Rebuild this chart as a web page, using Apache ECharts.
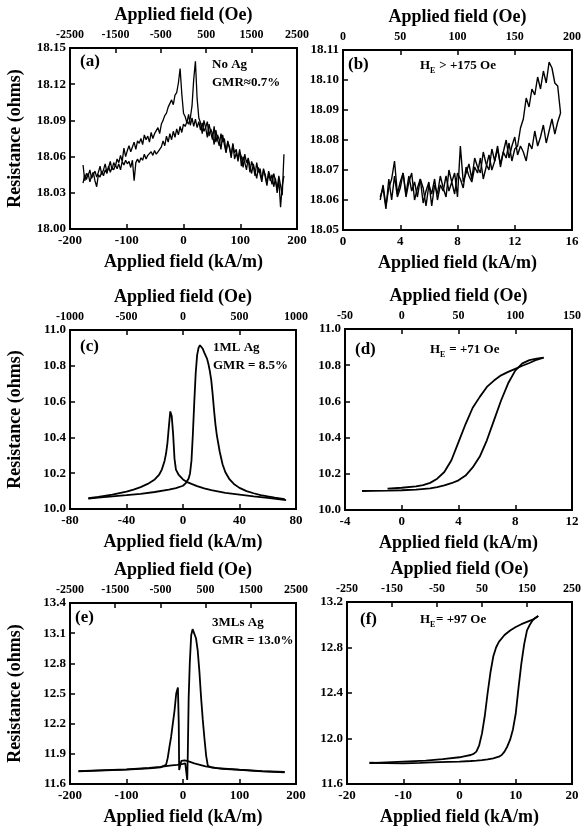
<!DOCTYPE html>
<html>
<head>
<meta charset="utf-8">
<script src="https://cdn.jsdelivr.net/npm/echarts@6/dist/echarts.min.js"></script>
<style>
html, body { margin: 0; padding: 0; background: #fff; }
#main { width: 584px; height: 829px; }
</style>
</head>
<body>
<div id="main"></div>
<script>
// (a) No Ag: two noisy sweeps, field from -177 kA/m in steps of 3
var aStart = -177, aStep = 3;
var aSweep1 = [
	18.053, 18.040, 18.046, 18.044, 18.049, 18.042, 18.045, 18.048, 18.043, 18.047,
	18.052, 18.045, 18.049, 18.054, 18.047, 18.051, 18.056, 18.049, 18.055, 18.052,
	18.058, 18.055, 18.061, 18.056, 18.067, 18.060, 18.065, 18.069, 18.064, 18.068,
	18.072, 18.066, 18.073, 18.071, 18.075, 18.070, 18.078, 18.074, 18.077, 18.072,
	18.080, 18.075, 18.079, 18.078, 18.084, 18.079, 18.087, 18.090, 18.094, 18.096,
	18.101, 18.102, 18.107, 18.103, 18.111, 18.113, 18.121, 18.133, 18.112, 18.096,
	18.093, 18.088, 18.095, 18.086, 18.092, 18.085, 18.091, 18.084, 18.089, 18.082,
	18.088, 18.081, 18.084, 18.089, 18.077, 18.083, 18.079, 18.070, 18.082, 18.074,
	18.069, 18.079, 18.072, 18.075, 18.064, 18.072, 18.068, 18.059, 18.070, 18.063,
	18.066, 18.056, 18.064, 18.060, 18.051, 18.062, 18.055, 18.058, 18.047, 18.056,
	18.052, 18.044, 18.055, 18.047, 18.050, 18.041, 18.049, 18.045, 18.038, 18.048,
	18.043, 18.037, 18.046, 18.040, 18.033, 18.044, 18.045, 18.028, 18.062
];
var aSweep2 = [
	18.038, 18.045, 18.041, 18.046, 18.039, 18.044, 18.047, 18.040, 18.035, 18.045,
	18.043, 18.048, 18.044, 18.049, 18.046, 18.052, 18.047, 18.051, 18.049, 18.053,
	18.050, 18.054, 18.049, 18.056, 18.053, 18.057, 18.054, 18.056, 18.051, 18.057,
	18.040, 18.055, 18.058, 18.055, 18.059, 18.057, 18.062, 18.058, 18.061, 18.062,
	18.064, 18.061, 18.065, 18.062, 18.064, 18.063, 18.068, 18.073, 18.069, 18.077,
	18.072, 18.079, 18.074, 18.081, 18.076, 18.083, 18.078, 18.085, 18.080, 18.087,
	18.085, 18.089, 18.087, 18.092, 18.102, 18.124, 18.139, 18.108, 18.092, 18.088,
	18.079, 18.090, 18.084, 18.076, 18.087, 18.080, 18.074, 18.085, 18.072, 18.078,
	18.074, 18.066, 18.078, 18.070, 18.063, 18.073, 18.067, 18.061, 18.071, 18.058,
	18.063, 18.058, 18.066, 18.052, 18.060, 18.055, 18.049, 18.059, 18.052, 18.046,
	18.054, 18.048, 18.042, 18.051, 18.045, 18.039, 18.050, 18.043, 18.036, 18.046,
	18.040, 18.045, 18.035, 18.042, 18.030, 18.041, 18.018, 18.036, 18.044
];

// (b) He > +175 Oe: up sweep from 2.6 kA/m, return sweep from 15.2 kA/m, step 0.2
var bUpStart = 2.6, bDownStart = 15.2, bStep = 0.2;
var bSweepUp = [
	18.060, 18.065, 18.058, 18.064, 18.067, 18.073, 18.062, 18.066, 18.069, 18.061,
	18.066, 18.069, 18.060, 18.064, 18.067, 18.059, 18.063, 18.066, 18.058, 18.065,
	18.062, 18.068, 18.064, 18.061, 18.070, 18.066, 18.069, 18.061, 18.078, 18.066,
	18.069, 18.072, 18.067, 18.074, 18.071, 18.069, 18.076, 18.072, 18.070, 18.077,
	18.073, 18.078, 18.071, 18.076, 18.080, 18.074, 18.078, 18.081, 18.075, 18.078,
	18.076, 18.073, 18.079, 18.077, 18.083, 18.078, 18.081, 18.085, 18.079, 18.083,
	18.087, 18.082, 18.086, 18.089
];
var bSweepDown = [
	18.089, 18.098, 18.099, 18.104, 18.106, 18.099, 18.103, 18.097, 18.101, 18.095,
	18.097, 18.091, 18.094, 18.087, 18.084, 18.078, 18.077, 18.073, 18.079, 18.074,
	18.076, 18.072, 18.077, 18.073, 18.070, 18.075, 18.071, 18.067, 18.074, 18.069,
	18.071, 18.066, 18.068, 18.071, 18.064, 18.067, 18.069, 18.062, 18.066, 18.063,
	18.068, 18.063, 18.065, 18.060, 18.067, 18.062, 18.065, 18.058, 18.064, 18.067,
	18.061, 18.066, 18.063, 18.068, 18.062, 18.069, 18.064, 18.061, 18.068, 18.060,
	18.067, 18.057, 18.064, 18.061
];

// (c) 1ML Ag: [field kA/m, resistance]
var cSweep1 = [[-67,10.058],[-60,10.063],[-50,10.07],[-40,10.077],[-30,10.085],[-20,10.095],[-10,10.108],[-5,10.117],[0,10.13],[2,10.145],[4,10.17],[5,10.2],[6,10.27],[7,10.42],[8,10.6],[9,10.76],[10,10.86],[11,10.9],[12,10.915],[13,10.91],[14,10.895],[15,10.875],[17,10.84],[18,10.81],[19,10.77],[20,10.72],[21,10.64],[22,10.55],[23,10.47],[24,10.41],[26,10.32],[28,10.25],[30,10.205],[33,10.165],[36,10.14],[40,10.118],[45,10.1],[50,10.088],[55,10.078],[60,10.07],[65,10.063],[72,10.055]];
var cSweep2 = [[-67,10.06],[-60,10.068],[-50,10.08],[-40,10.097],[-35,10.108],[-30,10.122],[-25,10.14],[-20,10.165],[-17,10.19],[-15,10.22],[-13,10.27],[-12,10.31],[-11,10.37],[-10,10.46],[-9,10.545],[-8.5,10.55],[-8,10.52],[-7,10.42],[-6,10.28],[-5,10.22],[-3,10.19],[0,10.165],[3,10.15],[6,10.14],[10,10.128],[15,10.115],[20,10.105],[30,10.09],[40,10.08],[50,10.07],[60,10.062],[73,10.05]];

// (d) He = +71 Oe
var dSweepUp = [[-2.8,10.105],[-2,10.106],[-1,10.107],[0,10.109],[1,10.113],[2,10.12],[2.5,10.127],[3,10.136],[3.5,10.148],[4,10.164],[4.5,10.19],[5,10.235],[5.5,10.295],[6,10.385],[6.5,10.495],[7,10.605],[7.5,10.7],[8,10.77],[8.5,10.81],[9,10.828],[9.5,10.836],[10,10.842]];
var dSweepDown = [[10,10.842],[9.5,10.83],[9,10.812],[8.5,10.797],[8,10.78],[7.5,10.763],[7,10.744],[6.5,10.715],[6,10.68],[5.5,10.625],[5,10.565],[4.5,10.475],[4,10.375],[3.5,10.275],[3,10.21],[2.5,10.173],[2,10.15],[1.5,10.138],[1,10.13],[0,10.123],[-1,10.118]];

// (e) 3MLs Ag
var eSweep1 = [[-185,11.728],[-150,11.735],[-100,11.745],[-60,11.76],[-40,11.77],[-20,11.785],[-10,11.79],[0,11.8],[4,11.805],[6,11.79],[7.5,11.64],[8.5,11.9],[10,12.45],[12,12.8],[14.5,13.08],[17,13.14],[18.5,13.155],[20,13.14],[23,13.05],[26,12.93],[29,12.72],[32,12.46],[35,12.24],[38,12.05],[41,11.88],[44,11.78],[50,11.765],[70,11.75],[100,11.74],[140,11.725],[180,11.715]];
var eSweep2 = [[180,11.72],[140,11.728],[100,11.742],[60,11.758],[40,11.775],[20,11.805],[10,11.825],[3,11.835],[0,11.83],[-3,11.83],[-6,11.83],[-6.8,11.74],[-7.5,12.2],[-9,12.56],[-10,12.57],[-12,12.5],[-15,12.33],[-18,12.2],[-21,12.07],[-24,11.97],[-27,11.86],[-30,11.79],[-40,11.765],[-60,11.755],[-100,11.743],[-150,11.733],[-185,11.725]];

// (f) He = +97 Oe
var fSweepUp = [[-16,11.787],[-13,11.784],[-10,11.782],[-7,11.786],[-5,11.79],[-2,11.794],[0,11.797],[2,11.802],[3,11.805],[4,11.81],[5,11.817],[6,11.826],[7,11.84],[7.5,11.855],[8,11.885],[8.5,11.93],[9,11.99],[9.5,12.08],[10,12.22],[10.5,12.45],[11,12.66],[11.5,12.83],[12,12.95],[12.5,13.0],[13,13.04],[13.5,13.06],[14,13.077]];
var fSweepDown = [[14,13.077],[13,13.045],[12,13.025],[11,13.005],[10,12.98],[9,12.95],[8,12.91],[7,12.85],[6.5,12.8],[6,12.72],[5.5,12.58],[5,12.4],[4.5,12.2],[4,12.045],[3.5,11.94],[3,11.885],[2.5,11.865],[2,11.855],[1,11.845],[0,11.835],[-3,11.818],[-6,11.806],[-10,11.797],[-13,11.79],[-16,11.783]];

function pairs(start, step, ys) {
	return ys.map(function (y, i) { return [+(start + i * step).toFixed(2), y]; });
}

var FONT = '"Liberation Serif", "Times New Roman", serif';

// grid box, kA/m axis, Oe axis, resistance axis, decimals
var panels = [
	{ box: [70, 48, 227, 181], ka: [-200, 200, 100], oe: [-2500, 2500, 1000], r: [18.00, 18.15, 0.03], d: 2, yName: true },
	{ box: [343, 50, 234, 180], ka: [0, 16, 4], oe: [0, 200, 50], r: [18.05, 18.11, 0.01], d: 2 },
	{ box: [70, 330, 226, 179], ka: [-80, 80, 40], oe: [-1000, 1000, 500], r: [10.0, 11.0, 0.2], d: 1, yName: true },
	{ box: [345, 329, 231, 181], ka: [-4, 12, 4], oe: [-50, 150, 50], r: [10.0, 11.0, 0.2], d: 1 },
	{ box: [70, 603, 226, 181], ka: [-200, 200, 100], oe: [-2500, 2500, 1000], r: [11.6, 13.4, 0.3], d: 1, yName: true },
	{ box: [347, 602, 228, 182], ka: [-20, 20, 10], oe: [-250, 250, 100], r: [11.6, 13.2, 0.4], d: 1 }
];

var plain = function (v) { return String(v); };

var grids = [], xAxes = [], yAxes = [];
panels.forEach(function (p, i) {
	grids.push({
		left: p.box[0], top: p.box[1], width: p.box[2], height: p.box[3],
		show: true, borderColor: '#000', borderWidth: 2, backgroundColor: 'transparent'
	});
	xAxes.push({
		gridIndex: i, type: 'value', position: 'bottom',
		min: p.ka[0], max: p.ka[1], interval: p.ka[2],
		name: 'Applied field (kA/m)', nameLocation: 'middle', nameGap: 24,
		nameTextStyle: { color: '#000', fontFamily: FONT, fontWeight: 'bold', fontSize: 18 },
		axisLine: { onZero: false, lineStyle: { color: '#000', width: 2 } },
		axisTick: { inside: true, length: 5, lineStyle: { color: '#000', width: 1.5 } },
		axisLabel: { color: '#000', fontFamily: FONT, fontWeight: 'bold', fontSize: 13, margin: 5, formatter: plain },
		splitLine: { show: false }
	});
	xAxes.push({
		gridIndex: i, type: 'value', position: 'top',
		min: p.oe[0], max: p.oe[1], interval: p.oe[2],
		name: 'Applied field (Oe)', nameLocation: 'middle', nameGap: 24,
		nameTextStyle: { color: '#000', fontFamily: FONT, fontWeight: 'bold', fontSize: 18 },
		axisLine: { onZero: false, lineStyle: { color: '#000', width: 2 } },
		axisTick: { inside: true, length: 5, lineStyle: { color: '#000', width: 1.5 } },
		axisLabel: { color: '#000', fontFamily: FONT, fontWeight: 'bold', fontSize: 12, margin: 7, formatter: plain },
		splitLine: { show: false }
	});
	yAxes.push({
		gridIndex: i, type: 'value', position: 'left',
		min: p.r[0], max: p.r[1], interval: p.r[2],
		name: p.yName ? 'Resistance (ohms)' : '', nameLocation: 'middle', nameGap: 46,
		nameTextStyle: { color: '#000', fontFamily: FONT, fontWeight: 'bold', fontSize: 18 },
		axisLine: { show: true, onZero: false, lineStyle: { color: '#000', width: 2 } },
		axisTick: { inside: true, length: 5, lineStyle: { color: '#000', width: 1.5 } },
		axisLabel: {
			color: '#000', fontFamily: FONT, fontWeight: 'bold', fontSize: 13, margin: 4,
			formatter: (function (d) { return function (v) { return v.toFixed(d); }; })(p.d)
		},
		splitLine: { show: false }
	});
});

function curve(panel, data, width) {
	return {
		type: 'line', xAxisIndex: panel * 2, yAxisIndex: panel,
		data: data, showSymbol: false, symbol: 'none', animation: false,
		lineStyle: { color: '#000', width: width }
	};
}

var series = [
	curve(0, pairs(aStart, aStep, aSweep1), 1.3),
	curve(0, pairs(aStart, aStep, aSweep2), 1.3),
	curve(1, pairs(bUpStart, bStep, bSweepUp), 1.4),
	curve(1, pairs(bDownStart, -bStep, bSweepDown), 1.4),
	curve(2, cSweep1, 1.8),
	curve(2, cSweep2, 1.8),
	curve(3, dSweepUp, 1.8),
	curve(3, dSweepDown, 1.8),
	curve(4, eSweep1, 1.8),
	curve(4, eSweep2, 1.8),
	curve(5, fSweepUp, 1.8),
	curve(5, fSweepDown, 1.8)
];

function label(text, x, y, size) {
	return {
		type: 'text', x: x, y: y, silent: true,
		style: { text: text, fill: '#000', font: 'bold ' + size + 'px ' + FONT, verticalAlign: 'middle' }
	};
}

function hLabel(x, y, rest) {
	return [
		label('H', x, y, 13),
		label('E', x + 10, y + 5, 8),
		label(rest, x + 16, y, 13)
	];
}

var graphics = [
	label('(a)', 80, 62, 17), label('No Ag', 212, 65, 13), label('GMR\u22480.7%', 212, 83, 13),
	label('(b)', 348, 65, 17),
	label('(c)', 80, 347, 17), label('1ML Ag', 213, 348, 13), label('GMR = 8.5%', 213, 366, 13),
	label('(d)', 355, 350, 17),
	label('(e)', 75, 618, 17), label('3MLs Ag', 212, 623, 13), label('GMR = 13.0%', 212, 641, 13),
	label('(f)', 360, 620, 17)
].concat(hLabel(420, 66, ' > +175 Oe'), hLabel(430, 350, ' = +71 Oe'), hLabel(420, 620, '= +97 Oe'));

var myChart = echarts.init(document.getElementById('main'));

myChart.setOption({
	backgroundColor: '#fff',
	animation: false,
	grid: grids,
	xAxis: xAxes,
	yAxis: yAxes,
	series: series,
	graphic: graphics
});
</script>
</body>
</html>
